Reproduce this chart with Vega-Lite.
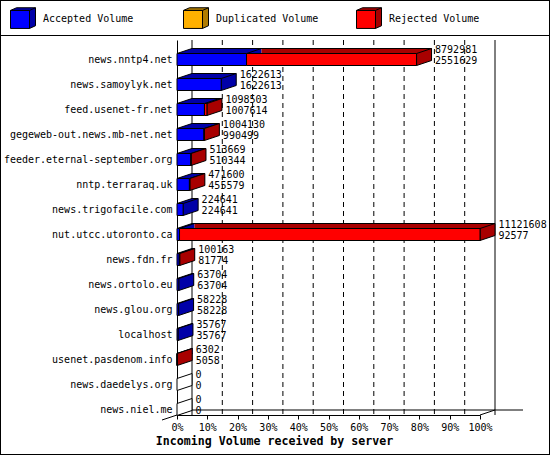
{
  "$schema": "https://vega.github.io/schema/vega-lite/v6.json",
  "width": 303,
  "height": 375,
  "autosize": "none",
  "padding": {"left": 177, "top": 40, "right": 70, "bottom": 40},
  "background": "white",
  "config": {
    "view": {"stroke": null},
    "font": "DejaVu Sans Mono",
    "axis": {"labelOverlap": false},
    "axisQuantitative": {"labelOverlap": false},
    "axisX": {"labelOverlap": false, "labelFlush": false, "labelSeparation": 0, "grid": false, "tickSize": 4, "tickColor": "black", "domainColor": "black", "labelFontSize": 10, "labelColor": "black", "labelPadding": 3}
  },
  "datasets": {
    "hosts": [
      {"host": "news.nntp4.net", "total": 8792981, "accepted": 2551629},
      {"host": "news.samoylyk.net", "total": 1622613, "accepted": 1622613},
      {"host": "feed.usenet-fr.net", "total": 1098503, "accepted": 1007614},
      {"host": "gegeweb-out.news.mb-net.net", "total": 1004130, "accepted": 990499},
      {"host": "feeder.eternal-september.org", "total": 513669, "accepted": 510344},
      {"host": "nntp.terraraq.uk", "total": 471600, "accepted": 455579},
      {"host": "news.trigofacile.com", "total": 224641, "accepted": 224641},
      {"host": "nut.utcc.utoronto.ca", "total": 11121608, "accepted": 92577},
      {"host": "news.fdn.fr", "total": 100163, "accepted": 81774},
      {"host": "news.ortolo.eu", "total": 63704, "accepted": 63704},
      {"host": "news.glou.org", "total": 58228, "accepted": 58228},
      {"host": "localhost", "total": 35767, "accepted": 35767},
      {"host": "usenet.pasdenom.info", "total": 6302, "accepted": 5058},
      {"host": "news.daedelys.org", "total": 0, "accepted": 0},
      {"host": "news.niel.me", "total": 0, "accepted": 0}
    ],
    "grid": [
      {"v": 1112160.8}, {"v": 2224321.6}, {"v": 3336482.4}, {"v": 4448643.2}, {"v": 5560804},
      {"v": 6672964.8}, {"v": 7785125.6}, {"v": 8897286.4}, {"v": 10009447.2}
    ],
    "wall": [{"v": 0}, {"v": 11121608}],
    "one": [{}]
  },
  "data": {"name": "hosts"},
  "layer": [
    {
      "mark": {"type": "bar", "opacity": 0},
      "encoding": {
        "x": {
          "field": "total", "type": "quantitative",
          "title": "Incoming Volume received by server",
          "scale": {"domain": [0, 11121608], "nice": false, "zero": true},
          "axis": {
            "values": [0, 1112160.8, 2224321.6, 3336482.4, 4448643.2, 5560804, 6672964.8, 7785125.6, 8897286.4, 10009447.2, 11121608],
            "tickCount": 11,
            "labelExpr": "round(datum.value / 111216.08) + '%'",
            "labelOverlap": false, "labelFlush": false, "labelSeparation": 0,
            "titleFontWeight": "bold", "titleFontSize": 11.6, "titleColor": "black",
            "titleX": 97, "titleY": 26, "titleBaseline": "middle", "titleAlign": "center"
          }
        },
        "y": {"field": "host", "type": "nominal", "title": null,
              "sort": ["news.nntp4.net", "news.samoylyk.net", "feed.usenet-fr.net", "gegeweb-out.news.mb-net.net", "feeder.eternal-september.org", "nntp.terraraq.uk", "news.trigofacile.com", "nut.utcc.utoronto.ca", "news.fdn.fr", "news.ortolo.eu", "news.glou.org", "localhost", "usenet.pasdenom.info", "news.daedelys.org", "news.niel.me"],
              "scale": {"domain": ["news.nntp4.net", "news.samoylyk.net", "feed.usenet-fr.net", "gegeweb-out.news.mb-net.net", "feeder.eternal-september.org", "nntp.terraraq.uk", "news.trigofacile.com", "nut.utcc.utoronto.ca", "news.fdn.fr", "news.ortolo.eu", "news.glou.org", "localhost", "usenet.pasdenom.info", "news.daedelys.org", "news.niel.me"], "paddingInner": 0, "paddingOuter": 0},
              "axis": {"title": null, "ticks": false, "labelPadding": 5, "labelOffset": 7, "labelFontSize": 10, "labelColor": "black", "domainColor": "black", "labelLimit": 300}}
      }
    },
    {
      "data": {"name": "grid"},
      "mark": {"type": "rule", "color": "black", "strokeDash": [5, 4], "xOffset": 15, "y2Offset": -5},
      "encoding": {"x": {"field": "v", "type": "quantitative", "title": "Incoming Volume received by server"}}
    },
    {
      "data": {"name": "wall"},
      "mark": {"type": "rule", "color": "black", "xOffset": 15, "y2Offset": -5},
      "encoding": {"x": {"field": "v", "type": "quantitative", "title": "Incoming Volume received by server"}}
    },
    {
      "data": {"name": "one"},
      "mark": {"type": "rule", "color": "black", "xOffset": 15, "x2Offset": 43, "yOffset": 7.5},
      "encoding": {
        "x": {"datum": 0, "type": "quantitative"},
        "x2": {"datum": 11121608},
        "y": {"datum": "news.niel.me", "type": "nominal"}
      }
    },
    {
      "data": {"name": "one"},
      "mark": {"type": "rule", "color": "black", "x2Offset": 15, "yOffset": 12.5, "y2Offset": 7.5},
      "encoding": {
        "x": {"datum": 11121608, "type": "quantitative"},
        "x2": {"datum": 11121608},
        "y": {"datum": "news.niel.me", "type": "nominal"},
        "y2": {"datum": "news.niel.me"}
      }
    },
    {
      "data": {"name": "one"},
      "mark": {"type": "rule", "color": "black", "xOffset": -15, "x2Offset": 15, "yOffset": 17.5, "y2Offset": 7.5},
      "encoding": {
        "x": {"datum": 0, "type": "quantitative"},
        "x2": {"datum": 0},
        "y": {"datum": "news.niel.me", "type": "nominal"},
        "y2": {"datum": "news.niel.me"}
      }
    },
    {
      "data": {"name": "one"},
      "mark": {"type": "rule", "color": "black", "xOffset": -176.5, "x2Offset": 69, "yOffset": -17},
      "encoding": {
        "x": {"datum": 0, "type": "quantitative"},
        "x2": {"datum": 11121608},
        "y": {"datum": "news.nntp4.net", "type": "nominal"}
      }
    },
    {
      "data": {"name": "one"},
      "mark": {"type": "rule", "color": "black", "xOffset": -176.5, "x2Offset": 69, "yOffset": -52},
      "encoding": {
        "x": {"datum": 0, "type": "quantitative"},
        "x2": {"datum": 11121608},
        "y": {"datum": "news.nntp4.net", "type": "nominal"}
      }
    },
    {
      "data": {"name": "one"},
      "mark": {"type": "rule", "color": "black", "xOffset": -176.5, "x2Offset": 69, "yOffset": 52},
      "encoding": {
        "x": {"datum": 0, "type": "quantitative"},
        "x2": {"datum": 11121608},
        "y": {"datum": "news.niel.me", "type": "nominal"}
      }
    },
    {
      "data": {"name": "one"},
      "mark": {"type": "rule", "color": "black", "xOffset": -176.5, "yOffset": -52.5, "y2Offset": 52.5},
      "encoding": {
        "x": {"datum": 0, "type": "quantitative"},
        "y": {"datum": "news.nntp4.net", "type": "nominal"},
        "y2": {"datum": "news.niel.me"}
      }
    },
    {
      "data": {"name": "one"},
      "mark": {"type": "rule", "color": "black", "xOffset": 69.5, "yOffset": -52.5, "y2Offset": 52.5},
      "encoding": {
        "x": {"datum": 11121608, "type": "quantitative"},
        "y": {"datum": "news.nntp4.net", "type": "nominal"},
        "y2": {"datum": "news.niel.me"}
      }
    },
    {
      "layer": [
        {
          "transform": [{"filter": "datum.accepted > 0"}],
          "mark": {"type": "bar", "height": 12, "xOffset": 15, "x2Offset": 15, "yOffset": 2},
          "encoding": {
            "x": {"field": "accepted", "type": "quantitative", "title": "Incoming Volume received by server"},
            "x2": {"datum": 0},
            "y": {"field": "host", "type": "nominal", "title": null},
            "fill": {
              "datum": "Accepted Volume", "type": "nominal",
              "scale": {"domain": ["Accepted Volume", "Duplicated Volume", "Rejected Volume"], "range": ["#0000a8", "#b07c00", "#a80000"]},
              "legend": {
                "orient": "none", "legendX": -167, "legendY": -31.3, "direction": "horizontal", "columns": 3,
                "title": null, "padding": 0,
                "symbolType": "M-1,-0.9L-0.4,-1.17L1.5,-1.17L1.5,0.63L0.9,0.9L0.9,-0.9ZM0.9,-0.9L1.5,-1.17",
                "symbolSize": 400, "symbolStrokeColor": "black", "symbolStrokeWidth": 1, "symbolOpacity": 1,
                "labelOffset": 12, "labelFontSize": 10, "labelOpacity": 0,
                "columnPadding": 35, "gridAlign": "all", "labelLimit": 0, "rowPadding": 0
              }
            }
          }
        },
        {
          "transform": [{"filter": "datum.total > datum.accepted"}],
          "mark": {"type": "bar", "height": 12, "xOffset": 15, "x2Offset": 15, "yOffset": 2},
          "encoding": {
            "x": {"field": "accepted", "type": "quantitative", "title": "Incoming Volume received by server"},
            "x2": {"field": "total", "title": "Incoming Volume received by server"},
            "y": {"field": "host", "type": "nominal", "title": null},
            "fill": {"datum": "Rejected Volume", "type": "nominal"}
          }
        },
        {
          "transform": [{"filter": "datum.total > 0"}],
          "mark": {"type": "rule", "color": "black", "xOffset": 15, "x2Offset": 15, "yOffset": -4},
          "encoding": {
            "x": {"field": "total", "type": "quantitative", "title": "Incoming Volume received by server"},
            "x2": {"datum": 0},
            "y": {"field": "host", "type": "nominal", "title": null}
          }
        },
        {
          "transform": [{"filter": "datum.total > 0"}],
          "mark": {"type": "point", "filled": true, "opacity": 1, "stroke": "black", "strokeWidth": 1, "size": 400, "yOffset": 7,
                   "shape": "M1.56,-0.6L0,-0.6L1.5,-1.1L1.56,-1.1"},
          "encoding": {
            "x": {"datum": 0, "type": "quantitative"},
            "y": {"field": "host", "type": "nominal", "title": null},
            "fill": {"datum": "Accepted Volume", "type": "nominal"}
          }
        },
        {
          "transform": [{"filter": "datum.accepted > 0 && datum.total > datum.accepted"}],
          "mark": {"type": "point", "filled": false, "opacity": 1, "stroke": "black", "strokeWidth": 1, "size": 400, "yOffset": 7,
                   "shape": "M0,-0.6L1.5,-1.1"},
          "encoding": {
            "x": {"field": "accepted", "type": "quantitative", "title": "Incoming Volume received by server"},
            "y": {"field": "host", "type": "nominal", "title": null}
          }
        },
        {
          "transform": [{"filter": "datum.total > datum.accepted"}],
          "mark": {"type": "point", "filled": true, "opacity": 1, "stroke": "black", "strokeWidth": 1, "size": 400, "yOffset": 7,
                   "shape": "M0,-0.6L1.5,-1.1L1.5,0.1L0,0.6Z"},
          "encoding": {
            "x": {"field": "total", "type": "quantitative", "title": "Incoming Volume received by server"},
            "y": {"field": "host", "type": "nominal", "title": null},
            "fill": {"datum": "Rejected Volume", "type": "nominal"}
          }
        },
        {
          "transform": [{"filter": "datum.total == datum.accepted && datum.total > 0"}],
          "mark": {"type": "point", "filled": true, "opacity": 1, "stroke": "black", "strokeWidth": 1, "size": 400, "yOffset": 7,
                   "shape": "M0,-0.6L1.5,-1.1L1.5,0.1L0,0.6Z"},
          "encoding": {
            "x": {"field": "total", "type": "quantitative", "title": "Incoming Volume received by server"},
            "y": {"field": "host", "type": "nominal", "title": null},
            "fill": {"datum": "Accepted Volume", "type": "nominal"}
          }
        },
        {
          "transform": [{"filter": "datum.total == 0"}],
          "mark": {"type": "point", "filled": true, "opacity": 1, "fill": "white", "stroke": "black", "strokeWidth": 1, "size": 400, "yOffset": 7,
                   "shape": "M0,-0.6L1.5,-1.1L1.5,0.1L0,0.6Z"},
          "encoding": {
            "x": {"field": "total", "type": "quantitative", "title": "Incoming Volume received by server"},
            "y": {"field": "host", "type": "nominal", "title": null}
          }
        }
      ]
    },
    {
      "layer": [
        {
          "transform": [{"filter": "datum.accepted > 0"}],
          "mark": {"type": "bar", "height": 12, "yOffset": 7, "stroke": "black", "strokeWidth": 1},
          "encoding": {
            "x": {"field": "accepted", "type": "quantitative", "title": "Incoming Volume received by server"},
            "x2": {"datum": 0},
            "y": {"field": "host", "type": "nominal", "title": null},
            "fill": {
              "datum": "Accepted Volume", "type": "nominal",
              "scale": {"domain": ["Accepted Volume", "Duplicated Volume", "Rejected Volume"], "range": ["#0000ff", "#ffb000", "#ff0000"]},
              "legend": {
                "orient": "none", "legendX": -167, "legendY": -31.3, "direction": "horizontal", "columns": 3,
                "title": null, "padding": 0,
                "symbolType": "M-1,-0.9L0.9,-0.9L0.9,0.9L-1,0.9Z",
                "symbolSize": 400, "symbolStrokeColor": "black", "symbolStrokeWidth": 1, "symbolOpacity": 1,
                "labelOffset": 12, "labelFontSize": 10, "labelColor": "black",
                "columnPadding": 35, "gridAlign": "all", "labelLimit": 0, "rowPadding": 0
              }
            }
          }
        },
        {
          "transform": [{"filter": "datum.total > datum.accepted"}],
          "mark": {"type": "bar", "height": 12, "yOffset": 7, "stroke": "black", "strokeWidth": 1},
          "encoding": {
            "x": {"field": "accepted", "type": "quantitative", "title": "Incoming Volume received by server"},
            "x2": {"field": "total", "title": "Incoming Volume received by server"},
            "y": {"field": "host", "type": "nominal", "title": null},
            "fill": {"datum": "Rejected Volume", "type": "nominal"}
          }
        }
      ]
    },
    {
      "mark": {"type": "text", "align": "left", "baseline": "middle", "xOffset": 18.5, "yOffset": -2.5, "fontSize": 10, "color": "black"},
      "encoding": {
        "x": {"field": "total", "type": "quantitative", "title": "Incoming Volume received by server"},
        "y": {"field": "host", "type": "nominal", "title": null},
        "text": {"field": "total", "type": "quantitative", "format": "d"}
      }
    },
    {
      "mark": {"type": "text", "align": "left", "baseline": "middle", "xOffset": 18.5, "yOffset": 8.5, "fontSize": 10, "color": "black"},
      "encoding": {
        "x": {"field": "total", "type": "quantitative", "title": "Incoming Volume received by server"},
        "y": {"field": "host", "type": "nominal", "title": null},
        "text": {"field": "accepted", "type": "quantitative", "format": "d"}
      }
    }
  ],
  "resolve": {"scale": {"fill": "independent"}}
}
